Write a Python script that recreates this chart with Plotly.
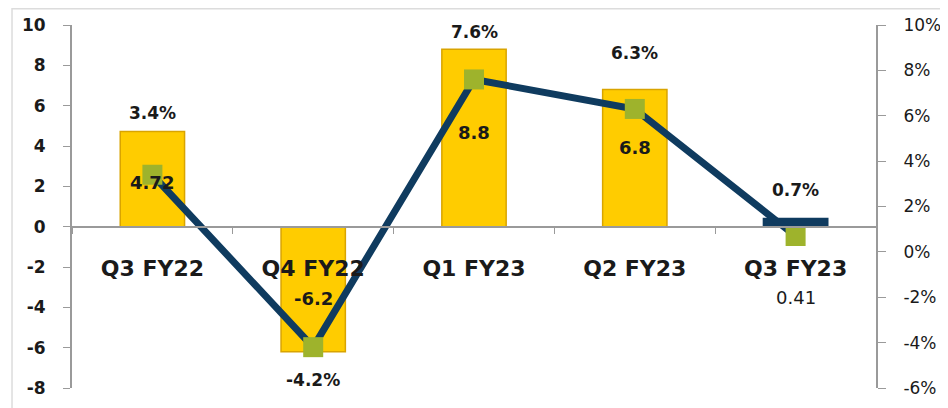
import plotly.graph_objects as go

# Quarterly data
quarters = ['Q3 FY22', 'Q4 FY22', 'Q1 FY23', 'Q2 FY23', 'Q3 FY23']
bar_values = [4.72, -6.2, 8.8, 6.8, 0.41]
growth_pct = [3.4, -4.2, 7.6, 6.3, 0.7]
bar_labels = ['4.72', '-6.2', '8.8', '6.8', '0.41']
pct_labels = ['3.4%', '-4.2%', '7.6%', '6.3%', '0.7%']

y_ticks = [-8, -6, -4, -2, 0, 2, 4, 6, 8, 10]
y2_ticks = [-6, -4, -2, 0, 2, 4, 6, 8, 10]

# label offsets (px): % labels from their markers, bar labels from mid-bar
pct_shift = [62, -33, 47, 56, 46]
bar_shift = [-3, -9, 5, 11, -75]

y_range = [-8, 10]
y2_range = [-6, 10]

FONT = 'DejaVu Sans'
TEXT = '#1a1a1a'
AXIS = '#9a9a9a'
GOLD = '#FFCC00'
NAVY = '#0F3B5F'

# the tiny last bar renders dark in the original
bar_colors = [GOLD, GOLD, GOLD, GOLD, NAVY]
bar_edges = ['#D9A400', '#D9A400', '#D9A400', '#D9A400', NAVY]

fig = go.Figure()

fig.add_trace(go.Bar(
    x=quarters,
    y=bar_values,
    width=0.4,
    marker=dict(color=bar_colors, line=dict(color=bar_edges, width=1.5)),
    showlegend=False,
))

fig.add_trace(go.Scatter(
    x=quarters,
    y=growth_pct,
    yaxis='y2',
    mode='lines+markers',
    line=dict(color=NAVY, width=7),
    marker=dict(symbol='square', size=20, color='#9EB32C'),
    cliponaxis=False,
    showlegend=False,
))

annotations = []
for q, p, lab, s in zip(quarters, growth_pct, pct_labels, pct_shift):
    annotations.append(dict(
        x=q, y=p, xref='x', yref='y2', text=lab, showarrow=False,
        yshift=s, font=dict(family=FONT, size=17, color=TEXT, weight='bold'),
    ))

# bar values drawn as annotations so they sit on top of the line
for q, v, lab, s in zip(quarters, bar_values, bar_labels, bar_shift):
    weight = 'bold' if abs(v) > 1 else 'normal'
    annotations.append(dict(
        x=q, y=v / 2, xref='x', yref='y', text=lab, showarrow=False,
        yshift=s, font=dict(family=FONT, size=18, color=TEXT, weight=weight),
    ))

# x axis crosses at zero on the left axis
zero_pos = (0 - y_range[0]) / (y_range[1] - y_range[0])

fig.update_layout(
    width=940,
    height=400,
    margin=dict(l=64, r=72, t=17, b=20),
    paper_bgcolor='white',
    plot_bgcolor='white',
    annotations=annotations,
    xaxis=dict(
        type='category',
        range=[-0.5, 4.5],
        anchor='free',
        position=zero_pos,
        automargin=False,
        showline=True,
        linecolor=AXIS,
        linewidth=2,
        ticks='outside',
        tickson='boundaries',
        ticklen=6,
        tickcolor=AXIS,
        ticklabelstandoff=22,
        showgrid=False,
        tickfont=dict(family=FONT, size=22, color=TEXT, weight='bold'),
    ),
    yaxis=dict(
        range=y_range,
        tickvals=y_ticks,
        ticktext=[str(t) for t in y_ticks],
        automargin=False,
        showgrid=False,
        zeroline=False,
        showline=True,
        linecolor=AXIS,
        linewidth=2,
        ticks='outside',
        ticklen=7,
        tickcolor=AXIS,
        ticklabelstandoff=14,
        tickfont=dict(family=FONT, size=17, color=TEXT, weight='bold'),
    ),
    yaxis2=dict(
        range=y2_range,
        tickvals=y2_ticks,
        ticktext=[f'{t}%' for t in y2_ticks],
        overlaying='y',
        side='right',
        automargin=False,
        showgrid=False,
        zeroline=False,
        showline=True,
        linecolor=AXIS,
        linewidth=2,
        ticks='outside',
        ticklen=8,
        tickcolor=AXIS,
        ticklabelstandoff=14,
        tickfont=dict(family=FONT, size=17, color=TEXT),
    ),
    shapes=[dict(
        type='rect', xref='paper', yref='paper',
        x0=-0.0746, x1=1.2, y0=-0.2, y1=1.045,
        line=dict(color='#dcdcdc', width=1.5),
        layer='below',
    )],
)

fig.write_html('out.html')
